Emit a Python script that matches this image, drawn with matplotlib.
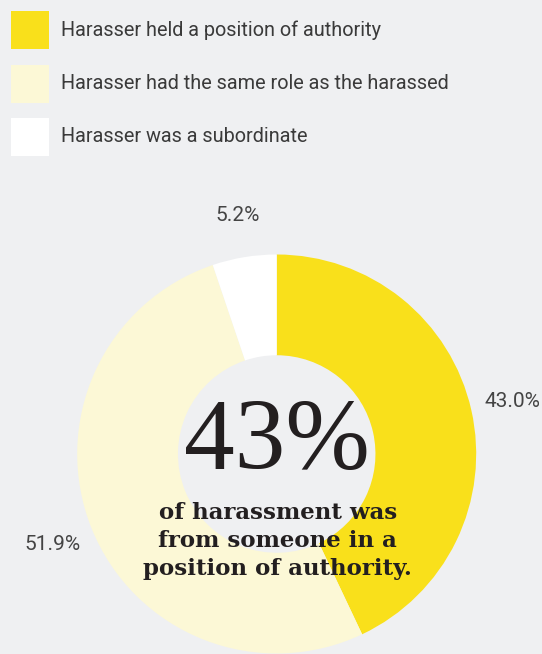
import matplotlib
matplotlib.use("Agg")
import matplotlib.pyplot as plt
from matplotlib.patches import Rectangle

# Data
categories = [
    "Harasser held a position of authority",
    "Harasser had the same role as the harassed",
    "Harasser was a subordinate",
]
shares = [43.0, 51.9, 5.2]
share_labels = ["43.0%", "51.9%", "5.2%"]
colors = ["#f9e01b", "#fcf8d6", "#ffffff"]
headline = "43%"
caption = "of harassment was\nfrom someone in a\nposition of authority."

BG = "#eff0f2"
W, H = 542, 654
narrow = ["Liberation Sans Narrow", "Roboto", "DejaVu Sans"]
serif = ["Liberation Serif", "DejaVu Serif"]
slab = ["DejaVu Serif"]

fig = plt.figure(figsize=(W / 100, H / 100), dpi=100, facecolor=BG)
ax = fig.add_axes([0, 0, 1, 1])
ax.set_facecolor(BG)

# Donut
cx, cy, r = 276.7, H - 454, 199.5
wedges, texts = ax.pie(
    shares, colors=colors, labels=share_labels, startangle=90,
    counterclock=False, center=(cx, cy), radius=r, labeldistance=1.21,
    wedgeprops=dict(width=r * 0.505, linewidth=0),
    textprops=dict(family=narrow, fontsize=15, color="#444444"),
    frame=True,
)
for t in texts:
    t.set_ha("center")
    t.set_va("center")

ax.set_xlim(0, W)
ax.set_ylim(0, H)
ax.set_aspect("equal")
ax.axis("off")

# Legend
for i, (lab, col) in enumerate(zip(categories, colors)):
    ytop = 11 + i * 53.5
    ax.add_patch(Rectangle((11, H - ytop - 38), 38, 38, facecolor=col,
                           edgecolor="none"))
    ax.text(61, H - ytop - 19, lab, family=narrow, fontsize=14.3,
            color="#3a3a3a", ha="left", va="center")

# Centre text
ax.text(cx, H - 445, headline, family=serif, fontsize=73, color="#231f20",
        ha="center", va="center")
ax.text(cx + 1, H - 541, caption, family=slab, fontweight="bold",
        fontsize=16.5, color="#231f20", ha="center", va="center",
        linespacing=1.33)

fig.savefig("out.png", dpi=100, facecolor=BG)
